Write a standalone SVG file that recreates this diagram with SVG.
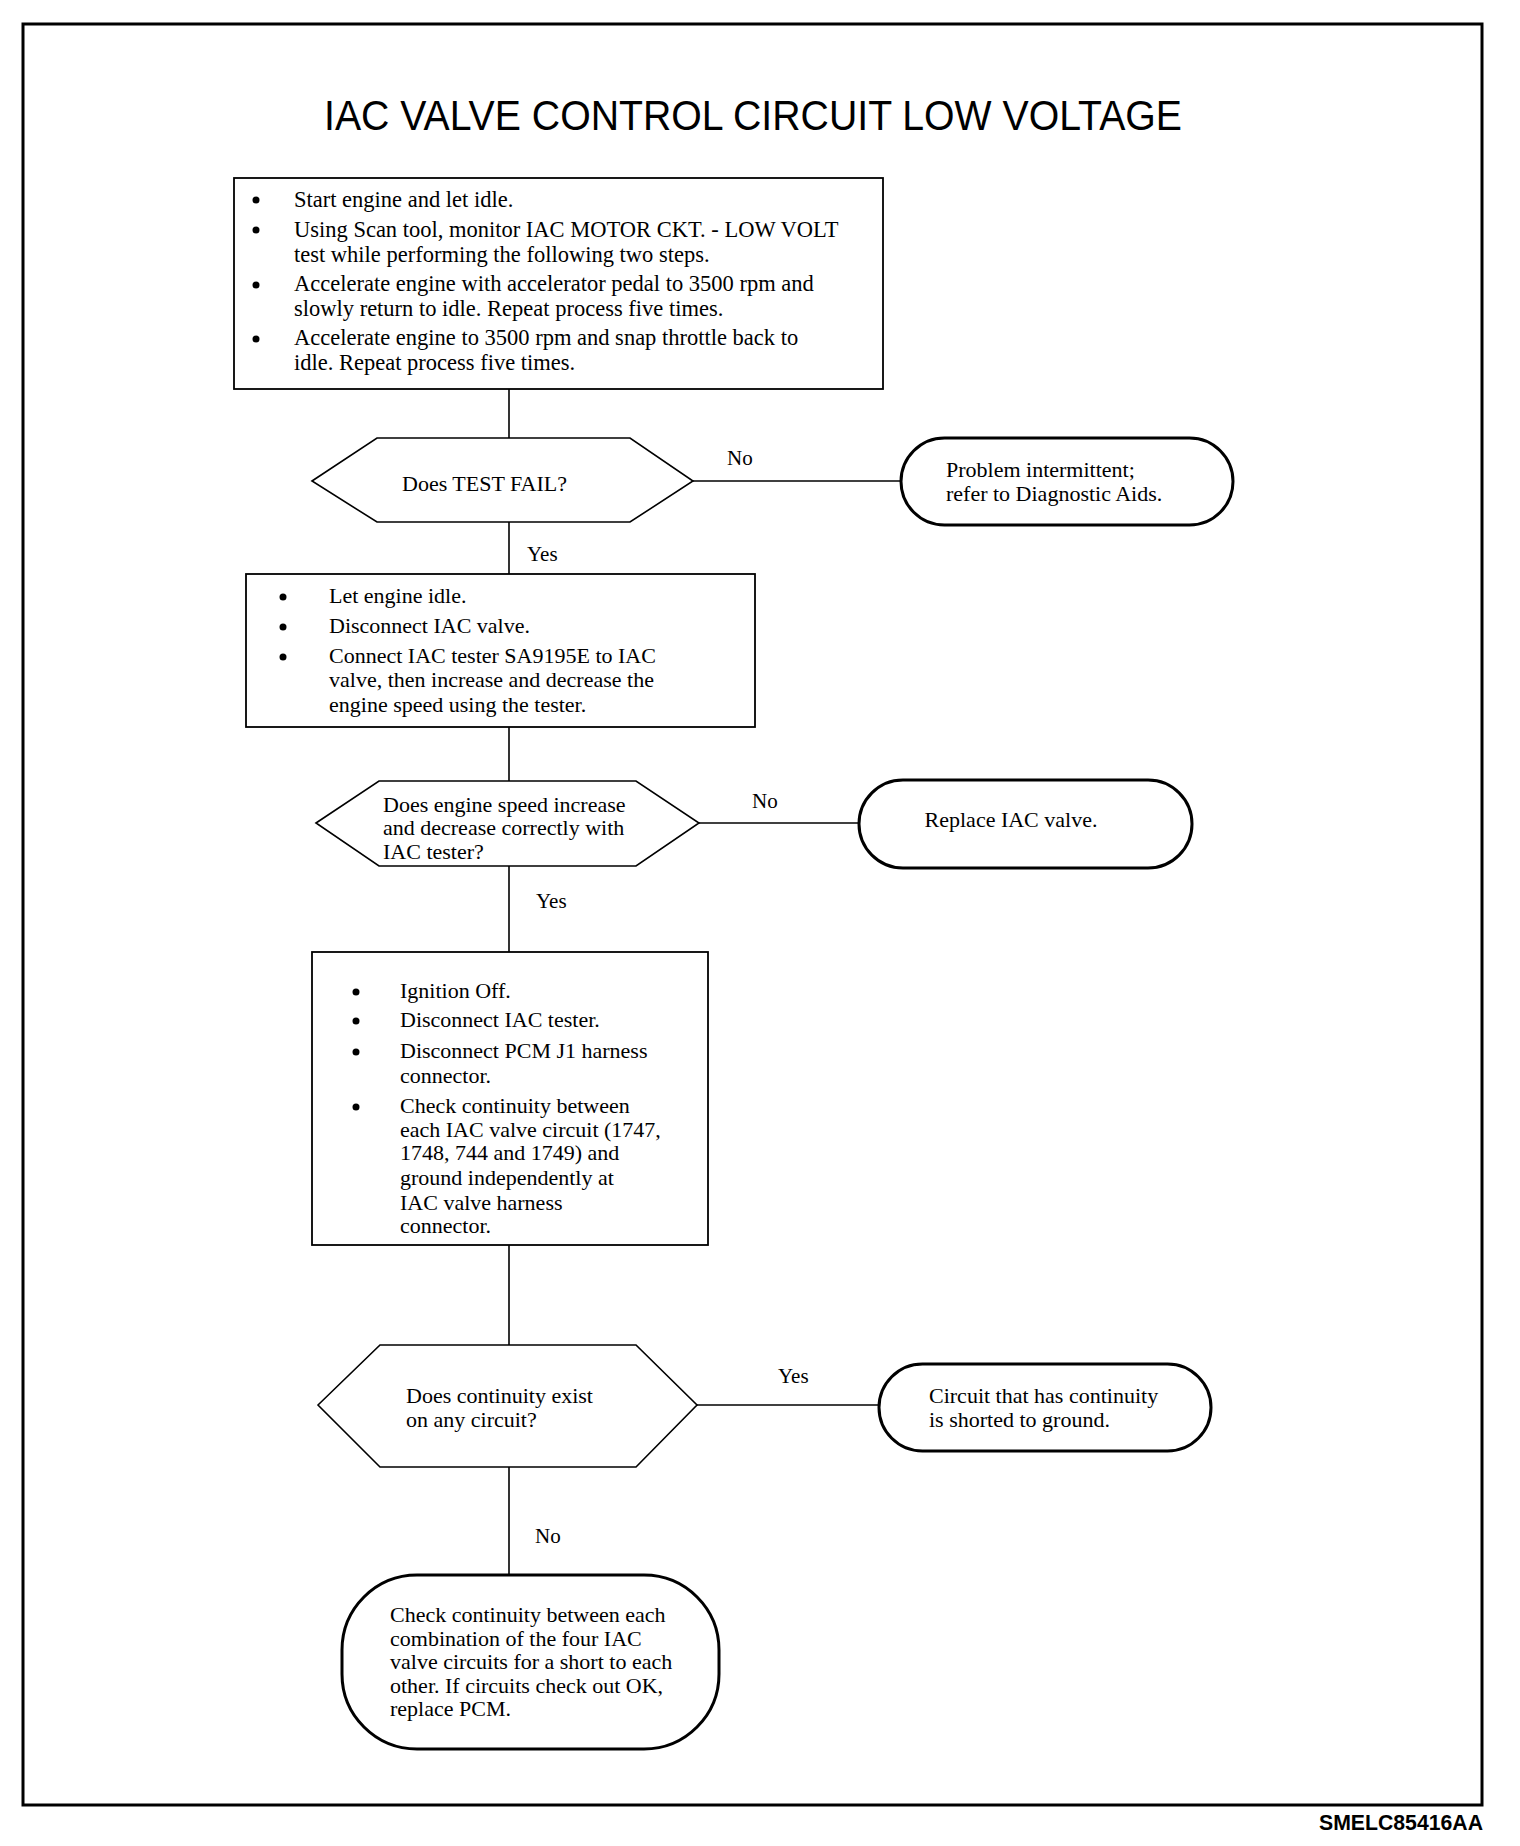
<svg xmlns="http://www.w3.org/2000/svg" width="1520" height="1846" viewBox="0 0 1520 1846">
<style>
.t{font-family:"Liberation Serif","Times New Roman",serif;font-size:22px;fill:#000}
.t1{font-family:"Liberation Serif","Times New Roman",serif;font-size:22.5px;fill:#000}
.lbl{font-family:"Liberation Serif","Times New Roman",serif;font-size:21px;fill:#000}
.box{fill:#fff;stroke:#000;stroke-width:1.8}
.term{fill:#fff;stroke:#000;stroke-width:3}
.hex{fill:#fff;stroke:#000;stroke-width:1.6}
.con{stroke:#000;stroke-width:1.6;fill:none}
.dot{fill:#000}
</style>
<rect width="1520" height="1846" fill="#fff"/>
<rect x="23" y="24" width="1459" height="1781" fill="none" stroke="#000" stroke-width="3"/>
<text x="324" y="130" font-family="'Liberation Sans',Arial,sans-serif" font-size="42" textLength="858" lengthAdjust="spacingAndGlyphs">IAC VALVE CONTROL CIRCUIT LOW VOLTAGE</text>
<text x="1319" y="1830" font-family="'Liberation Sans',Arial,sans-serif" font-size="22" font-weight="bold" textLength="164" lengthAdjust="spacingAndGlyphs">SMELC85416AA</text>

<g id="connectors">
<line class="con" x1="509" y1="389" x2="509" y2="438"/>
<line class="con" x1="693" y1="481" x2="901" y2="481"/>
<line class="con" x1="509" y1="522" x2="509" y2="574"/>
<line class="con" x1="509" y1="727" x2="509" y2="781"/>
<line class="con" x1="699" y1="823" x2="859" y2="823"/>
<line class="con" x1="509" y1="866" x2="509" y2="952"/>
<line class="con" x1="509" y1="1245" x2="509" y2="1345"/>
<line class="con" x1="697" y1="1405" x2="879" y2="1405"/>
<line class="con" x1="509" y1="1467" x2="509" y2="1575"/>
<text class="lbl" x="727" y="465">No</text>
<text class="lbl" x="527" y="561">Yes</text>
<text class="lbl" x="752" y="808">No</text>
<text class="lbl" x="536" y="908">Yes</text>
<text class="lbl" x="778" y="1383">Yes</text>
<text class="lbl" x="535" y="1543">No</text>
</g>

<g id="step1">
<rect class="box" x="234" y="178" width="649" height="211"/>
<circle class="dot" cx="256" cy="200" r="3.5"/>
<circle class="dot" cx="256" cy="230" r="3.5"/>
<circle class="dot" cx="256" cy="285" r="3.5"/>
<circle class="dot" cx="256" cy="339" r="3.5"/>
<text class="t1" x="294" y="207">Start engine and let idle.</text>
<text class="t1" x="294" y="237">Using Scan tool, monitor IAC MOTOR CKT. - LOW VOLT</text>
<text class="t1" x="294" y="262">test while performing the following two steps.</text>
<text class="t1" x="294" y="291">Accelerate engine with accelerator pedal to 3500 rpm and</text>
<text class="t1" x="294" y="316">slowly return to idle. Repeat process five times.</text>
<text class="t1" x="294" y="345">Accelerate engine to 3500 rpm and snap throttle back to</text>
<text class="t1" x="294" y="370">idle. Repeat process five times.</text>
</g>

<g id="decision1">
<polygon class="hex" points="312,481 377,438 630,438 693,481 630,522 377,522"/>
<text class="t" x="402" y="491">Does TEST FAIL?</text>
</g>

<g id="end1">
<rect class="term" x="901" y="438" width="332" height="87" rx="43.5" ry="43.5"/>
<text class="t" x="946" y="477">Problem intermittent;</text>
<text class="t" x="946" y="501">refer to Diagnostic Aids.</text>
</g>

<g id="step2">
<rect class="box" x="246" y="574" width="509" height="153"/>
<circle class="dot" cx="283" cy="597" r="3.5"/>
<circle class="dot" cx="283" cy="627" r="3.5"/>
<circle class="dot" cx="283" cy="657" r="3.5"/>
<text class="t" x="329" y="603">Let engine idle.</text>
<text class="t" x="329" y="633">Disconnect IAC valve.</text>
<text class="t" x="329" y="663">Connect IAC tester SA9195E to IAC</text>
<text class="t" x="329" y="687">valve, then increase and decrease the</text>
<text class="t" x="329" y="712">engine speed using the tester.</text>
</g>

<g id="decision2">
<polygon class="hex" points="316,823 379,781 636,781 699,823 636,866 379,866"/>
<text class="t" x="383" y="812">Does engine speed increase</text>
<text class="t" x="383" y="835">and decrease correctly with</text>
<text class="t" x="383" y="859">IAC tester?</text>
</g>

<g id="end2">
<rect class="term" x="859" y="780" width="333" height="88" rx="44" ry="44"/>
<text class="t" x="1011" y="827" text-anchor="middle">Replace IAC valve.</text>
</g>

<g id="step3">
<rect class="box" x="312" y="952" width="396" height="293"/>
<circle class="dot" cx="356" cy="992" r="3.5"/>
<circle class="dot" cx="356" cy="1021" r="3.5"/>
<circle class="dot" cx="356" cy="1052" r="3.5"/>
<circle class="dot" cx="356" cy="1107" r="3.5"/>
<text class="t" x="400" y="998">Ignition Off.</text>
<text class="t" x="400" y="1027">Disconnect IAC tester.</text>
<text class="t" x="400" y="1058">Disconnect PCM J1 harness</text>
<text class="t" x="400" y="1083">connector.</text>
<text class="t" x="400" y="1113">Check continuity between</text>
<text class="t" x="400" y="1137">each IAC valve circuit (1747,</text>
<text class="t" x="400" y="1160">1748, 744 and 1749) and</text>
<text class="t" x="400" y="1185">ground independently at</text>
<text class="t" x="400" y="1210">IAC valve harness</text>
<text class="t" x="400" y="1233">connector.</text>
</g>

<g id="decision3">
<polygon class="hex" points="318,1405 380,1345 636,1345 697,1405 636,1467 380,1467"/>
<text class="t" x="406" y="1403">Does continuity exist</text>
<text class="t" x="406" y="1427">on any circuit?</text>
</g>

<g id="end3">
<rect class="term" x="879" y="1364" width="332" height="87" rx="43.5" ry="43.5"/>
<text class="t" x="929" y="1403">Circuit that has continuity</text>
<text class="t" x="929" y="1427">is shorted to ground.</text>
</g>

<g id="end4">
<rect class="term" x="342" y="1575" width="377" height="174" rx="75" ry="75"/>
<text class="t" x="390" y="1622">Check continuity between each</text>
<text class="t" x="390" y="1646">combination of the four IAC</text>
<text class="t" x="390" y="1669">valve circuits for a short to each</text>
<text class="t" x="390" y="1693">other. If circuits check out OK,</text>
<text class="t" x="390" y="1716">replace PCM.</text>
</g>
</svg>
